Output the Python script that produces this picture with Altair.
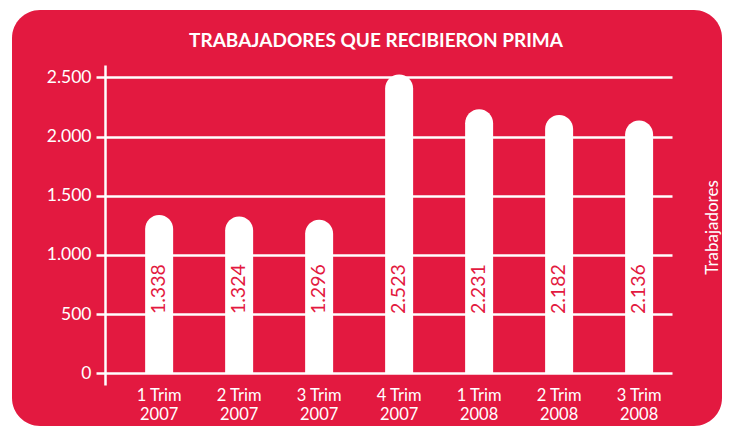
import altair as alt
import pandas as pd

quarters = ["1 Trim", "2 Trim", "3 Trim", "4 Trim", "1 Trim", "2 Trim", "3 Trim"]
years = ["2007", "2007", "2007", "2007", "2008", "2008", "2008"]
workers = [1338, 1324, 1296, 2523, 2231, 2182, 2136]
y_ticks = [0, 500, 1000, 1500, 2000, 2500]

RED = "#E31940"
FONT = "Lato"

df = pd.DataFrame({
    "periodo": [f"{q}|{y}" for q, y in zip(quarters, years)],
    "trabajadores": workers,
})

x = alt.X(
    "periodo:N",
    sort=None,
    scale=alt.Scale(range=[93, 660], paddingInner=0.65, paddingOuter=0.369, align=0.68),
    axis=alt.Axis(
        title=None, orient="bottom", offset=-41, domain=False, ticks=False, grid=False,
        labelAngle=0, labelAlign="center", labelBaseline="top", labelPadding=2,
        labelExpr="split(datum.label, '|')", labelLineHeight=19,
        labelFont=FONT, labelFontSize=16.5, labelColor="white",
    ),
)

y_scale = alt.Scale(domain=[-99, 2604], range=[375, 55], nice=False, zero=False)

bars = alt.Chart(df).mark_bar(
    color="white", cornerRadiusTopLeft=14, cornerRadiusTopRight=14
).encode(
    x=x,
    y=alt.Y(
        "trabajadores:Q",
        scale=y_scale,
        axis=alt.Axis(
            values=y_ticks, orient="left", offset=-93,
            labelExpr="replace(format(datum.value, ','), ',', '.')",
            labelFont=FONT, labelFontSize=17.5, labelColor="white", labelPadding=5,
            domain=True, domainColor="white", domainWidth=2.5,
            ticks=True, tickColor="white", tickSize=9, tickWidth=2.5,
            grid=True, gridColor="white", gridWidth=2.5, gridOpacity=1,
            title="Trabajadores", titleX=607, titleY=217, titleAngle=270,
            titleAlign="center", titleBaseline="middle",
            titleFont=FONT, titleFontSize=17, titleFontWeight="normal", titleColor="white",
        ),
    ),
    y2=alt.datum(0),
)

labels = alt.Chart(df).transform_calculate(
    etiqueta="replace(format(datum.trabajadores, ','), ',', '.')"
).mark_text(
    angle=270, align="left", baseline="middle", color=RED, font=FONT, fontSize=19.5
).encode(
    x=alt.X("periodo:N", sort=None),
    y=alt.datum(500),
    text="etiqueta:N",
)

chart = alt.layer(bars, labels).properties(
    width=710,
    height=416,
    padding={"left": 4, "top": 2, "right": 0, "bottom": 0},
    autosize=alt.AutoSizeParams(type="none"),
    title=alt.TitleParams(
        "TRABAJADORES QUE RECIBIERON PRIMA",
        anchor="middle", frame="group", orient="top", offset=-56, baseline="alphabetic",
        dx=9, font=FONT, fontSize=19, fontWeight="bold", color="white",
    ),
).configure(
    background="white",
).configure_view(
    fill=RED, stroke=None, cornerRadius=28,
)

chart.save("out.html", embed_options={"renderer": "svg", "actions": False})
